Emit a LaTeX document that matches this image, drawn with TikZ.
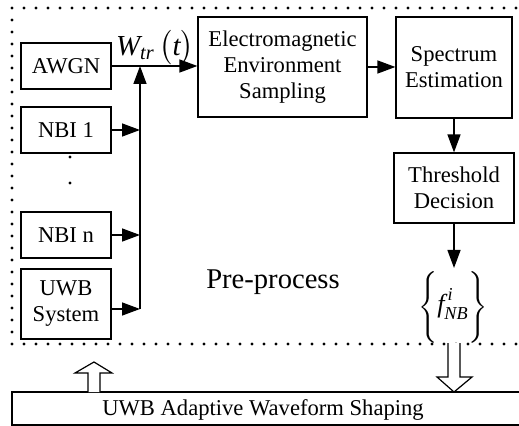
\documentclass[tikz,border=0pt]{standalone}
\usepackage{amsmath}
\usepackage{fontspec}
\setmainfont{Liberation Serif}
\usetikzlibrary{arrows.meta}

\tikzset{
  blk/.style={draw, line width=0.6bp, align=center, inner sep=1bp},
  arr/.style={line width=0.7bp, -{Stealth[inset=0pt,length=9bp,width=6.5bp]}},
  hollow/.style={draw, line width=0.6bp, fill=white},
  dotline/.style={line width=1.6bp, line cap=round, dash pattern=on 0bp off 6bp},
}

\begin{document}
\begin{tikzpicture}[x=0.5bp,y=-0.5bp,font=\fontsize{11.3bp}{13bp}\selectfont]
\useasboundingbox (0,0) rectangle (519,426);
\clip (0,0) rectangle (519,426);
\draw[dotline] (540,344) -- (12,344) -- (12,8) -- (540,8);

\node[blk, minimum width=45bp, minimum height=23bp] (awgn) at (66,66) {AWGN};
\node[blk, minimum width=45bp, minimum height=23bp] (nbi1) at (66,130) {NBI 1};
\node[blk, minimum width=45bp, minimum height=23bp] (nbin) at (66,235) {NBI n};
\node[blk, minimum width=45bp, minimum height=35bp] (uwb) at (66,304) {UWB\\System};
\fill (70,157) circle (0.8bp);
\fill (70,183) circle (0.8bp);

\node[blk, minimum width=84.5bp, minimum height=50bp] (ees) at (282.5,67) {Electromagnetic\\Environment\\Sampling};
\node[blk, minimum width=58bp, minimum height=50.5bp] (se) at (454,67.5) {Spectrum\\Estimation};
\node[blk, minimum width=60bp, minimum height=35bp] (td) at (454,188) {Threshold\\Decision};
\node[font=\fontsize{13bp}{15bp}\selectfont] (fnb) at (453,307) {$\Bigg\{\textit{f}^{\,\textit{i}}_{\textit{NB}}\Bigg\}$};
\node[font=\fontsize{14.3bp}{17bp}\selectfont] (pre) at (273,282) {Pre-process};
\node[font=\fontsize{14.5bp}{17bp}\selectfont] (wtr) at (155,48) {$\textit{W}_{\textit{tr}}\,\bigl(\textit{t}\bigr)$};

\coordinate (bustop) at (140,66);
\coordinate (busbot) at (140,309);
\draw[arr] (awgn.east) -- (ees.west |- awgn.east);
\draw[arr] (busbot) -- (bustop);
\draw[arr] (nbi1.east) -- (bustop |- nbi1.east);
\draw[arr] (nbin.east) -- (bustop |- nbin.east);
\draw[arr] (uwb.east |- busbot) -- (busbot);
\draw[arr] (ees.east) -- (se.west |- ees.east);
\draw[arr] (se) -- (td);
\draw[arr] (td) -- (td.south |- 0,268);

\draw[line width=0.6bp] (540,425) -| (12,392) -- (540,392);
\node (adapt) at (263,410) {UWB Adaptive Waveform Shaping};
\coordinate (upfoot) at (94,392);
\coordinate (downtip) at (454,392);
\filldraw[hollow] (upfoot) ++(-6,0) -- ++(0,-19) -- ++(-13,0) -- ++(19,-11) -- ++(18,11) -- ++(-12,0) -- ++(0,19);
\filldraw[hollow] (downtip) ++(-6,-49) -- ++(0,34) -- ++(-11,0) -- (downtip) -- ++(18,-15) -- ++(-12,0) -- ++(0,-34);
\end{tikzpicture}
\end{document}
